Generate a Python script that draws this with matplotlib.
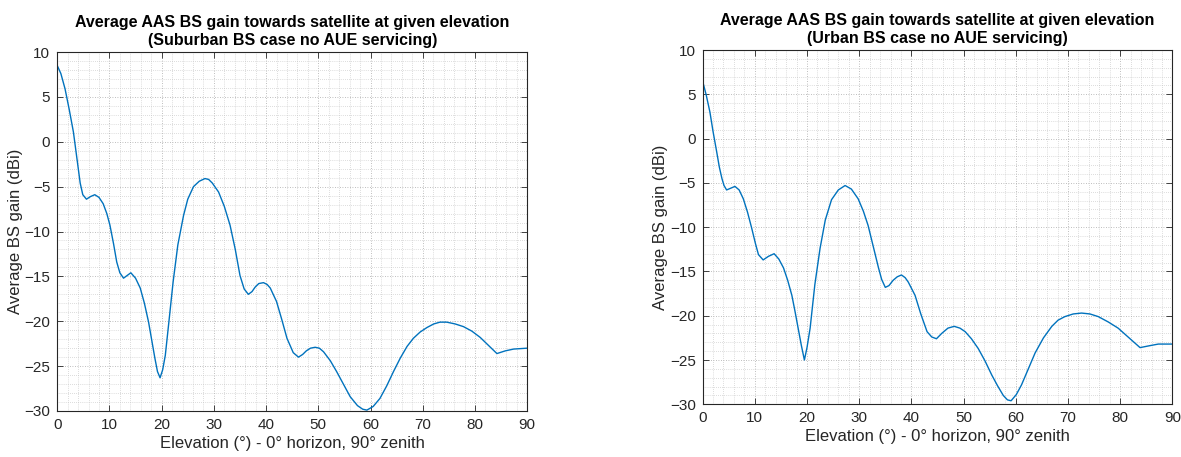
import matplotlib
matplotlib.use("Agg")
import matplotlib.pyplot as plt
from matplotlib.ticker import MultipleLocator

# ---- data ----
sub_elev = [0, 0.7, 1.5, 2.3, 3.1, 3.9, 4.4, 4.9, 5.6, 6.4, 7.2, 8.0, 8.8, 9.5, 10.1,
            10.8, 11.4, 12.0, 12.7, 13.4, 14.1, 15.0, 15.9, 16.7, 17.5, 18.1, 18.7,
            19.2, 19.7, 20.2, 20.7, 21.4, 22.2, 23.1, 24.2, 25.0, 26.1, 27.2, 28.3,
            29.0, 29.7, 30.9, 32.0, 33.1, 34.1, 35.0, 35.8, 36.6, 37.3, 37.9, 38.6,
            39.5, 40.2, 40.8, 42.0, 43.0, 44.0, 45.2, 46.2, 47.0, 47.7, 48.5, 49.4,
            50.2, 51.0, 52.3, 53.5, 54.8, 56.1, 57.5, 58.5, 59.3, 60.5, 61.8, 63.1,
            64.4, 65.7, 67.0, 68.2, 69.5, 70.8, 72.1, 73.3, 74.6, 76.2, 77.8, 79.4,
            81.0, 82.6, 84.2, 85.8, 87.4, 90.0]
sub_gain = [8.5, 7.6, 5.9, 3.6, 1.1, -2.4, -4.6, -5.9, -6.4, -6.1, -5.9, -6.2, -6.9,
            -8.0, -9.3, -11.4, -13.4, -14.6, -15.2, -14.9, -14.6, -15.2, -16.3, -18.0,
            -20.1, -22.1, -24.1, -25.6, -26.3, -25.4, -23.8, -20.0, -15.6, -11.5, -8.2,
            -6.4, -5.0, -4.4, -4.1, -4.2, -4.6, -5.6, -7.2, -9.3, -12.0, -14.9, -16.4,
            -17.0, -16.7, -16.2, -15.8, -15.7, -15.9, -16.3, -17.8, -19.8, -21.9, -23.5,
            -24.0, -23.7, -23.3, -23.0, -22.9, -23.0, -23.4, -24.4, -25.6, -27.0, -28.4,
            -29.4, -29.8, -29.9, -29.5, -28.6, -27.2, -25.6, -24.1, -22.8, -21.9, -21.2,
            -20.7, -20.3, -20.1, -20.1, -20.3, -20.6, -21.1, -21.8, -22.7, -23.6, -23.3,
            -23.1, -23.0]

urb_elev = [0, 0.7, 1.4, 2.0, 2.7, 3.2, 3.7, 4.1, 4.6, 5.4, 6.2, 7.0, 7.8, 8.6, 9.4,
            10.1, 10.7, 11.6, 12.6, 13.7, 14.6, 15.5, 16.3, 17.1, 17.7, 18.3, 18.9,
            19.5, 20.0, 20.6, 21.5, 22.5, 23.5, 24.7, 26.0, 27.3, 28.5, 29.8, 30.8,
            31.7, 32.7, 33.7, 34.3, 35.0, 35.7, 36.5, 37.3, 38.1, 38.8, 39.4, 40.7,
            41.8, 43.0, 43.9, 44.8, 45.8, 47.0, 48.2, 49.3, 50.3, 51.5, 52.8, 54.1,
            55.4, 56.5, 57.6, 58.4, 59.1, 60.1, 61.1, 62.4, 63.7, 65.3, 66.9, 68.1,
            69.4, 71.0, 72.6, 74.2, 75.8, 77.7, 79.6, 81.7, 83.8, 85.5, 87.3, 90.0]
urb_gain = [6.5, 4.9, 3.0, 0.8, -1.5, -3.2, -4.5, -5.3, -5.8, -5.6, -5.4, -5.8, -6.8,
            -8.3, -10.1, -11.8, -13.1, -13.7, -13.3, -13.0, -13.6, -14.6, -16.0, -17.7,
            -19.5, -21.4, -23.3, -25.0, -23.6, -21.4, -16.5, -12.4, -9.2, -6.9, -5.8,
            -5.3, -5.7, -6.8, -8.2, -9.8, -12.2, -14.6, -15.9, -16.8, -16.6, -16.0,
            -15.6, -15.4, -15.7, -16.2, -17.7, -19.8, -21.8, -22.4, -22.6, -22.0, -21.4,
            -21.2, -21.4, -21.8, -22.6, -23.7, -25.1, -26.7, -27.9, -29.0, -29.5, -29.6,
            -28.9, -27.8, -26.0, -24.2, -22.5, -21.2, -20.5, -20.1, -19.8, -19.7, -19.8,
            -20.1, -20.7, -21.4, -22.5, -23.6, -23.4, -23.2, -23.2]

titles = ["Average AAS BS gain towards satellite at given elevation\n(Suburban BS case no AUE servicing)",
          "Average AAS BS gain towards satellite at given elevation\n(Urban BS case no AUE servicing)"]
xlabel = "Elevation (°) - 0° horizon, 90° zenith"
ylabel = "Average BS gain (dBi)"
xticks = [0, 10, 20, 30, 40, 50, 60, 70, 80, 90]
yticks = [-30, -25, -20, -15, -10, -5, 0, 5, 10]

plt.rcParams['font.family'] = ['Liberation Sans', 'DejaVu Sans']

W, H = 1181, 457
fig = plt.figure(figsize=(W / 100, H / 100), dpi=100)

axes_px = [(57.2, 52.0, 470.0, 359.0), (702.6, 50.0, 469.8, 354.3)]
series = [(sub_elev, sub_gain), (urb_elev, urb_gain)]
txt = '#262626'

for (lx, ty, w, h), (xs, ys), title in zip(axes_px, series, titles):
    ax = fig.add_axes([lx / W, 1 - (ty + h) / H, w / W, h / H])
    ax.plot(xs, ys, color='#0072BD', lw=1.0)
    ax.set_xlim(0, 90)
    ax.set_ylim(-30, 10)
    ax.set_xticks(xticks)
    ax.set_yticks(yticks)
    ax.xaxis.set_minor_locator(MultipleLocator(2))
    ax.yaxis.set_minor_locator(MultipleLocator(1))
    ax.grid(which='major', color='#a8a8a8', ls=(0, (1, 2)), lw=0.6)
    ax.grid(which='minor', color='#bdbdbd', ls=(0, (1, 2)), lw=0.5)
    ax.set_axisbelow(True)
    ax.tick_params(which='major', direction='in', length=4, width=0.6,
                   top=True, right=True, colors=txt, labelsize=11, pad=5)
    ax.tick_params(which='minor', length=0, top=True, right=True)
    for s in ax.spines.values():
        s.set_color(txt)
        s.set_linewidth(0.8)
    ax.set_xlabel(xlabel, fontsize=12, color=txt, labelpad=3)
    ax.set_ylabel(ylabel, fontsize=12, color=txt, labelpad=1)
    ax.set_title(title, fontsize=11.5, fontweight='bold', color='black',
                 pad=5, linespacing=1.25)

fig.savefig('out.png', dpi=100, facecolor='white')
